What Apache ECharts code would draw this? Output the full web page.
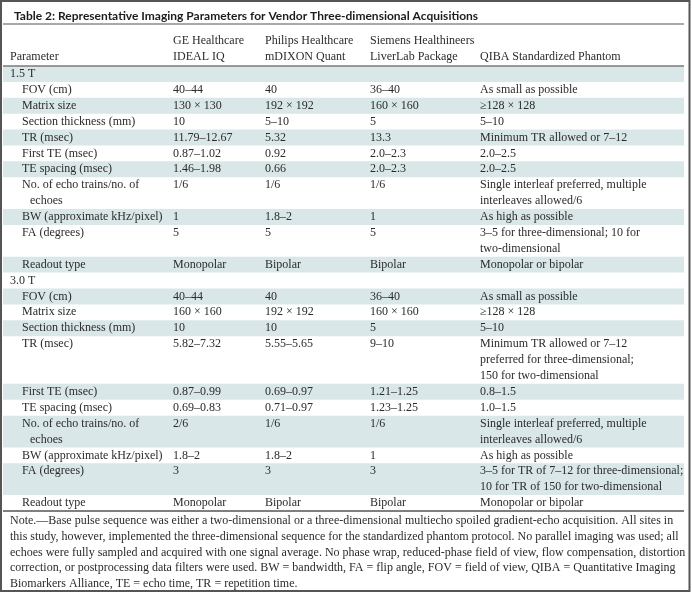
<!DOCTYPE html>
<html>
<head>
<meta charset="utf-8">
<script src="https://cdn.jsdelivr.net/npm/echarts@6/dist/echarts.min.js"></script>
<style>
html,body{margin:0;padding:0;background:#fff;}
#chart{width:692px;height:593px;}
</style>
</head>
<body>
<div id="chart"></div>
<script>
// ---------------- DATA ----------------
const tableTitle = 'Table 2: Representative Imaging Parameters for Vendor Three-dimensional Acquisitions';
const columnHeaders = [
  ['Parameter'],
  ['GE Healthcare', 'IDEAL IQ'],
  ['Philips Healthcare', 'mDIXON Quant'],
  ['Siemens Healthineers', 'LiverLab Package'],
  ['QIBA Standardized Phantom']
];
const sections = ['1.5 T', '3.0 T'];
const parameters = [
  ['FOV (cm)'],
  ['Matrix size'],
  ['Section thickness (mm)'],
  ['TR (msec)'],
  ['First TE (msec)'],
  ['TE spacing (msec)'],
  ['No. of echo trains/no. of', 'echoes'],
  ['BW (approximate kHz/pixel)'],
  ['FA (degrees)'],
  ['Readout type']
];
const ge15 = ['40–44', '130 × 130', '10', '11.79–12.67', '0.87–1.02', '1.46–1.98', '1/6', '1', '5', 'Monopolar'];
const philips15 = ['40', '192 × 192', '5–10', '5.32', '0.92', '0.66', '1/6', '1.8–2', '5', 'Bipolar'];
const siemens15 = ['36–40', '160 × 160', '5', '13.3', '2.0–2.3', '2.0–2.3', '1/6', '1', '5', 'Bipolar'];
const qiba15 = [
  ['As small as possible'],
  ['≥128 × 128'],
  ['5–10'],
  ['Minimum TR allowed or 7–12'],
  ['2.0–2.5'],
  ['2.0–2.5'],
  ['Single interleaf preferred, multiple', 'interleaves allowed/6'],
  ['As high as possible'],
  ['3–5 for three-dimensional; 10 for', 'two-dimensional'],
  ['Monopolar or bipolar']
];
const ge30 = ['40–44', '160 × 160', '10', '5.82–7.32', '0.87–0.99', '0.69–0.83', '2/6', '1.8–2', '3', 'Monopolar'];
const philips30 = ['40', '192 × 192', '10', '5.55–5.65', '0.69–0.97', '0.71–0.97', '1/6', '1.8–2', '3', 'Bipolar'];
const siemens30 = ['36–40', '160 × 160', '5', '9–10', '1.21–1.25', '1.23–1.25', '1/6', '1', '3', 'Bipolar'];
const qiba30 = [
  ['As small as possible'],
  ['≥128 × 128'],
  ['5–10'],
  ['Minimum TR allowed or 7–12', 'preferred for three-dimensional;', '150 for two-dimensional'],
  ['0.8–1.5'],
  ['1.0–1.5'],
  ['Single interleaf preferred, multiple', 'interleaves allowed/6'],
  ['As high as possible'],
  ['3–5 for TR of 7–12 for three-dimensional;', '10 for TR of 150 for two-dimensional'],
  ['Monopolar or bipolar']
];
const noteLines = [
  'Note.—Base pulse sequence was either a two-dimensional or a three-dimensional multiecho spoiled gradient-echo acquisition. All sites in',
  'this study, however, implemented the three-dimensional sequence for the standardized phantom protocol. No parallel imaging was used; all',
  'echoes were fully sampled and acquired with one signal average. No phase wrap, reduced-phase field of view, flow compensation, distortion',
  'correction, or postprocessing data filters were used. BW = bandwidth, FA = flip angle, FOV = field of view, QIBA = Quantitative Imaging',
  'Biomarkers Alliance, TE = echo time, TR = repetition time.'
];

// ---------------- LAYOUT / STYLE ----------------
const W = 692, H = 593;
const BODY_TOP = 66, BODY_BOTTOM = 511;
const COL_X = [10, 173, 265, 370, 480];
const PARAM_INDENT = 12, CONT_INDENT = 8;
const SHADE_X0 = 3, SHADE_X1 = 684;
const SHADE = '#d9e7e9';
const TEXT = '#2b2b2b';
const SERIF = '12px "Liberation Serif", "Times New Roman", serif';
const HEADER_LINES = [-1.6, -0.6];

// ---------------- BUILD ROWS ----------------
const rows = [];
const sectionData = [
  [ge15, philips15, siemens15, qiba15],
  [ge30, philips30, siemens30, qiba30]
];
sections.forEach((sec, s) => {
  rows.push({ cells: [[sec], [], [], [], []], section: true });
  const [g, p, si, q] = sectionData[s];
  parameters.forEach((par, i) => {
    rows.push({ cells: [par, [g[i]], [p[i]], [si[i]], q[i]], section: false });
  });
});
let lineCursor = 0;
const shadeData = [];
const cellItems = [];
rows.forEach((r, ri) => {
  const n = Math.max.apply(null, r.cells.map(c => c.length || 1));
  if (ri % 2 === 0) shadeData.push([lineCursor, lineCursor + n]);
  r.cells.forEach((lines, ci) => {
    lines.forEach((t, li) => {
      let indent = 0;
      if (ci === 0 && !r.section) indent = PARAM_INDENT + (li > 0 ? CONT_INDENT : 0);
      cellItems.push({ col: ci, line: lineCursor + li + 0.5, text: t, indent: indent });
    });
  });
  lineCursor += n;
});
const totalLines = lineCursor;
columnHeaders.forEach((h, ci) => {
  const start = HEADER_LINES.length - h.length;
  h.forEach((t, li) => {
    cellItems.push({ col: ci, line: HEADER_LINES[start + li], text: t, indent: 0 });
  });
});

// ---------------- CHART ----------------
const chart = echarts.init(document.getElementById('chart'), null, { renderer: 'canvas' });
chart.setOption({
  animation: false,
  backgroundColor: '#ffffff',
  title: {
    text: tableTitle,
    left: 9, top: 5,
    textStyle: { fontFamily: 'Lato', fontWeight: 'bold', fontSize: 12, color: '#1c1c1c' }
  },
  grid: { left: 0, right: 0, top: BODY_TOP, bottom: H - BODY_BOTTOM },
  xAxis: { type: 'value', min: 0, max: W, show: false },
  yAxis: { type: 'value', min: 0, max: totalLines, inverse: true, show: false },
  series: [
    {
      type: 'custom',
      name: 'shade',
      data: shadeData,
      renderItem: function (params, api) {
        const a = api.coord([SHADE_X0, api.value(0)]);
        const b = api.coord([SHADE_X1, api.value(1)]);
        return { type: 'rect', shape: { x: a[0], y: a[1], width: b[0] - a[0], height: b[1] - a[1] }, style: { fill: SHADE } };
      },
      silent: true,
      z: 1
    },
    {
      type: 'custom',
      name: 'cells',
      clip: false,
      data: cellItems.map(c => [c.col, c.line]),
      renderItem: function (params, api) {
        const c = cellItems[params.dataIndex];
        const p = api.coord([COL_X[c.col] + c.indent, c.line]);
        return { type: 'text', x: p[0], y: p[1], style: { text: c.text, fill: TEXT, font: SERIF, textVerticalAlign: 'middle', verticalAlign: 'middle' } };
      },
      silent: true,
      z: 3
    }
  ],
  graphic: [
    { type: 'rect', shape: { x: 1, y: 1, width: 688.5, height: 590 }, style: { fill: null, stroke: '#555', lineWidth: 2 }, silent: true, z: 10 },
    { type: 'line', shape: { x1: SHADE_X0, y1: 24, x2: SHADE_X1, y2: 24 }, style: { stroke: '#8c8c8c', lineWidth: 1.5 }, z: 10 },
    { type: 'line', shape: { x1: SHADE_X0, y1: BODY_TOP, x2: SHADE_X1, y2: BODY_TOP }, style: { stroke: '#7a7a7a', lineWidth: 1.5 }, z: 10 },
    { type: 'line', shape: { x1: SHADE_X0, y1: BODY_BOTTOM, x2: SHADE_X1, y2: BODY_BOTTOM }, style: { stroke: '#555', lineWidth: 1.5 }, z: 10 },
    { type: 'text', x: 10, y: 513, style: { text: noteLines.join('\n'), font: SERIF, fill: TEXT, lineHeight: 15.8 }, z: 10 }
  ]
});
</script>
</body>
</html>
